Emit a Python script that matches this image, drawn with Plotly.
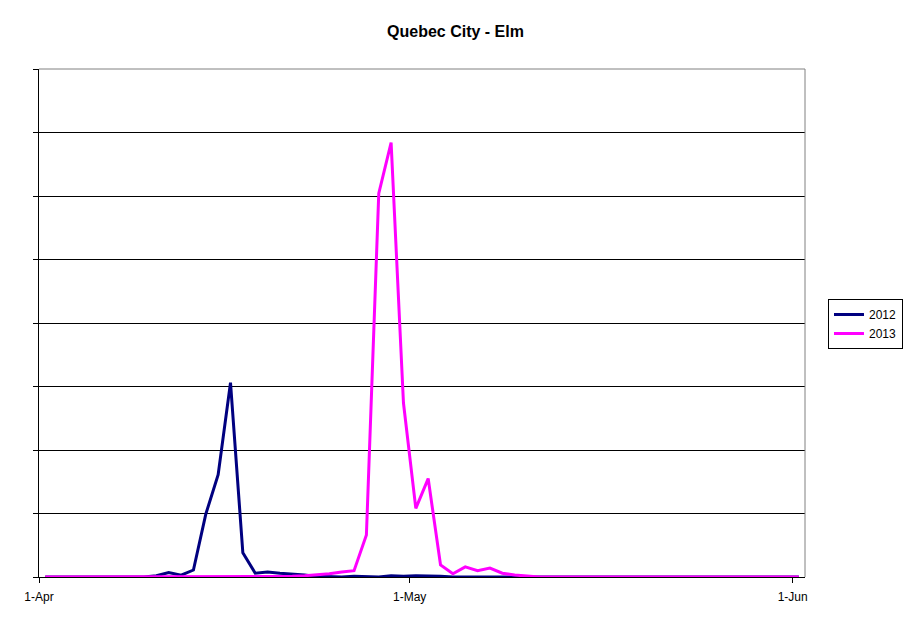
import pandas as pd
import plotly.graph_objects as go

# Daily dates, 1 April to 1 June
dates = pd.date_range("2013-04-01", "2013-06-01", freq="D")

# Pollen counts (relative units, y axis has no labels)
elm_2012 = [0, 0, 0, 0, 0, 0, 0, 0, 0, 0.02,
            0.07, 0.03, 0.11, 0.99, 1.61, 3.06, 0.38, 0.06, 0.08, 0.06,
            0.05, 0.03, 0.01, 0.0, 0.0, 0.01, 0.01, 0.0, 0.02, 0.01,
            0.02, 0.02, 0.01, 0, 0, 0, 0, 0, 0, 0,
            0, 0, 0, 0, 0, 0, 0, 0, 0, 0,
            0, 0, 0, 0, 0, 0, 0, 0, 0, 0,
            0, 0]
elm_2013 = [0, 0, 0, 0, 0, 0, 0, 0, 0, 0,
            0, 0, 0, 0, 0, 0, 0, 0, 0, 0,
            0.01, 0.02, 0.03, 0.05, 0.08, 0.10, 0.66, 6.04, 6.84, 2.74,
            1.08, 1.55, 0.19, 0.05, 0.16, 0.10, 0.14, 0.06, 0.03, 0.01,
            0, 0, 0, 0, 0, 0, 0, 0, 0, 0,
            0, 0, 0, 0, 0, 0, 0, 0, 0, 0,
            0, 0]

series_names = ["2012", "2013"]
series_colors = ["#000080", "#FF00FF"]

tick_labels = ["1-Apr", "1-May", "1-Jun"]
tick_positions = [pd.Timestamp("2013-03-31 12:00"),
                  pd.Timestamp("2013-04-30 12:00"),
                  pd.Timestamp("2013-05-31 12:00")]
y_grid = list(range(0, 9))

font_family = "Arial, Liberation Sans, sans-serif"

fig = go.Figure()
for name, vals, col in zip(series_names, [elm_2012, elm_2013], series_colors):
    fig.add_trace(go.Scatter(x=dates, y=vals, mode="lines", name=name,
                             line=dict(color=col, width=3)))

# the page body adds an 8px offset, so the figure is 8px smaller
W, H = 903, 615
fig.update_layout(
    width=W, height=H,
    margin=dict(l=31, r=106, t=61, b=46, autoexpand=False),
    paper_bgcolor="white", plot_bgcolor="white",
    font=dict(family=font_family, size=12, color="black"),
    title=dict(text="<b>Quebec City - Elm</b>", x=447.5 / W, xref="container",
               xanchor="center", y=1 - 23 / H, yref="container", yanchor="middle",
               font=dict(size=16, family=font_family, color="black")),
    showlegend=True,
    legend=dict(x=1.030, xanchor="left", y=0.498, yanchor="middle",
                bordercolor="black", borderwidth=1, bgcolor="white",
                font=dict(size=12, family=font_family), itemwidth=30,
                tracegroupgap=0),
    xaxis=dict(range=[pd.Timestamp("2013-03-31 12:00"), pd.Timestamp("2013-06-01 12:00")],
               tickmode="array", tickvals=tick_positions, ticktext=tick_labels,
               ticks="outside", ticklen=5, tickcolor="black", tickwidth=1,
               ticklabelstandoff=4,
               showline=True, linecolor="black", linewidth=1,
               showgrid=False, zeroline=False, automargin=False,
               tickfont=dict(size=12, color="black")),
    yaxis=dict(range=[0, 8], tickmode="array", tickvals=y_grid,
               showticklabels=False, ticks="outside", ticklen=5,
               tickcolor="black", tickwidth=1, automargin=False,
               showline=True, linecolor="black", linewidth=1,
               showgrid=True, gridcolor="black", gridwidth=1, zeroline=False),
)

# gray plot-area border on top and right
fig.add_shape(type="line", xref="paper", yref="paper", x0=0, x1=1, y0=1, y1=1,
              line=dict(color="#808080", width=1), layer="above")
fig.add_shape(type="line", xref="paper", yref="paper", x0=1, x1=1, y0=0, y1=1,
              line=dict(color="#808080", width=1), layer="above")

fig.write_html("out.html")
